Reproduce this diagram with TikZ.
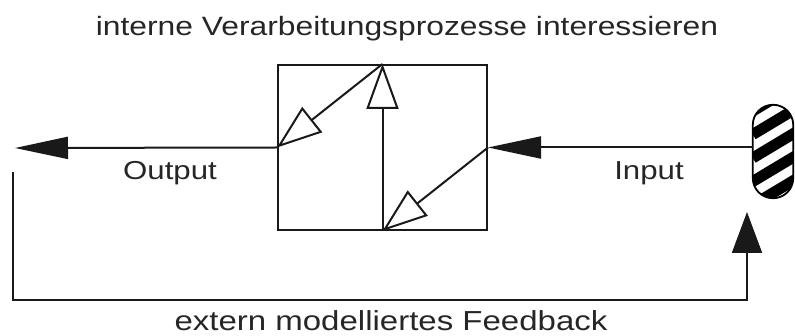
\documentclass[tikz,border=0pt]{standalone}
\usepackage{fontspec}
\setmainfont[FakeStretch=1.2]{Liberation Sans}
\usetikzlibrary{arrows.meta,calc}

\begin{document}
\begin{tikzpicture}[x=1pt,y=-1pt,
  conn/.style={line width=2pt, draw=black!90},
  solidhead/.style={-{Triangle[length=53pt,width=22pt]}},
  openhead/.style={-{Triangle[length=45pt,width=32pt,fill=white]}},
  lbl/.style={anchor=base, font=\fontsize{26}{30}\selectfont, text=black!85, inner sep=0pt}
]
\useasboundingbox (0,0) rectangle (795,336);

% processing box
\node[draw=black!90, line width=2pt, minimum width=209pt, minimum height=165pt, inner sep=0pt] (proc) at (382.5,147.5) {};

% striped source capsule
\node[minimum width=40pt, minimum height=93pt, inner sep=0pt] (src) at (773,151.5) {};
\begin{scope}
  \clip[rounded corners=20pt] (src.south west) rectangle (src.north east);
  \foreach \k in {-3,...,3}
    \draw[line width=11pt] ($(src.west)+(0,6.5+\k*23.5)$) -- ++(60,-36);
\end{scope}
\draw[line width=1.8pt, rounded corners=20pt] (src.south west) rectangle (src.north east);

% output and input
\coordinate (outtip) at (15,148);
\draw[conn, solidhead] (proc.west) -- (outtip);
\draw[conn, solidhead] (src.west |- proc.east) -- (proc.east);

% internal processes
\draw[conn, openhead] (proc.north) -- (proc.west);
\draw[conn, openhead] (proc.south) -- (proc.north);
\draw[conn, openhead] (proc.east) -- (proc.south);

% feedback loop
\coordinate (fbtop) at (13,172);
\coordinate (fbcorner) at (747,300);
\coordinate (fbtip) at (747,212);
\draw[conn, -{Triangle[length=41pt,width=30pt]}] (fbtop) |- (fbcorner) -- (fbtip);

% labels
\node[lbl, font=\fontsize{26.5}{30}\selectfont] (title) at (407,36) {interne Verarbeitungsprozesse interessieren};
\node[lbl] (outlbl) at (170,180) {Output};
\node[lbl] (inlbl) at (649,180) {Input};
\node[lbl, font=\fontsize{27.5}{32}\selectfont] (fblbl) at (391,331) {extern modelliertes Feedback};
\end{tikzpicture}
\end{document}
